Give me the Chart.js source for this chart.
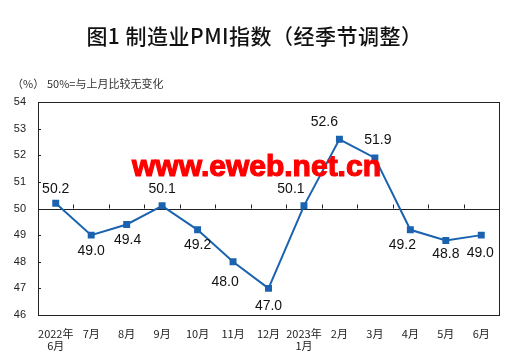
<!DOCTYPE html>
<html>
<head>
<meta charset="utf-8">
<script src="https://cdn.jsdelivr.net/npm/chart.js@4.4.0/dist/chart.umd.min.js"></script>
<style>
    html, body { margin: 0; padding: 0; background: #fff; }
    #wrap { position: relative; width: 509px; height: 361px; }
    #pmiChart { position: absolute; left: 0; top: 0; }
    .txt { position: absolute; white-space: nowrap; color: #111; }
    #title { left: 0; width: 509px; top: 20px; text-align: center; font: 500 21px "Noto Sans CJK SC", sans-serif; letter-spacing: 0.5px; }
    #unit { left: 12px; top: 75px; font: 11px "Noto Sans CJK SC", sans-serif; color: #333; }
    #note { left: 47px; top: 75px; font: 11px "Noto Sans CJK SC", sans-serif; color: #333; }
    #mark { left: 2px; width: 509px; top: 149px; text-align: center; font: bold 30px "Liberation Sans", Arial, sans-serif; color: #ff0000; -webkit-text-stroke: 1.2px #ff0000; }
</style>
</head>
<body>
<div id="wrap">
    <canvas id="pmiChart" width="509" height="361"></canvas>
    <div class="txt" id="title">图1 制造业PMI指数（经季节调整）</div>
    <div class="txt" id="unit">（%）</div>
    <div class="txt" id="note">50%=与上月比较无变化</div>
    <div class="txt" id="mark">www.eweb.net.cn</div>
</div>
<script>
    "use strict";

    // Months on the x axis
    const months = [
        ['2022年', '6月'], '7月', '8月', '9月', '10月', '11月', '12月',
        ['2023年', '1月'], '2月', '3月', '4月', '5月', '6月'
    ];
    // Manufacturing PMI, seasonally adjusted
    const pmiValues = [50.2, 49.0, 49.4, 50.1, 49.2, 48.0, 47.0, 50.1, 52.6, 51.9, 49.2, 48.8, 49.0];
    // Y axis range
    const yTicks = [46, 47, 48, 49, 50, 51, 52, 53, 54];

    const lineBlue = '#1b63b0';

    // frame, 50% line ticks and the inner y ticks
    const framePlugin = {
        id: 'frame',
        beforeDatasetsDraw(chart) {
            const { ctx, chartArea: a, scales } = chart;
            const y50 = scales.y.getPixelForValue(50);
            ctx.save();
            ctx.strokeStyle = '#222';
            ctx.lineWidth = 1;
            ctx.strokeRect(Math.round(a.left) + 0.5, Math.round(a.top) + 0.5,
                Math.round(a.right - a.left), Math.round(a.bottom - a.top));
            ctx.beginPath();
            ctx.moveTo(a.left, Math.round(y50) + 0.5);
            ctx.lineTo(a.right, Math.round(y50) + 0.5);
            for (let i = 1; i < months.length; i++) {
                const x = Math.round((scales.x.getPixelForValue(i - 1) + scales.x.getPixelForValue(i)) / 2) + 0.5;
                ctx.moveTo(x, y50);
                ctx.lineTo(x, y50 - 4);
            }
            yTicks.forEach(v => {
                if (v === yTicks[0] || v === yTicks[yTicks.length - 1]) return;
                const y = Math.round(scales.y.getPixelForValue(v)) + 0.5;
                ctx.moveTo(a.left, y);
                ctx.lineTo(a.left + 3, y);
            });
            ctx.stroke();
            ctx.restore();
        }
    };

    // value labels next to the points
    const valueLabels = {
        id: 'valueLabels',
        afterDatasetsDraw(chart, args, opts) {
            const { ctx } = chart;
            const meta = chart.getDatasetMeta(0);
            ctx.save();
            ctx.font = '14px "Liberation Sans", Arial, sans-serif';
            ctx.fillStyle = '#111';
            ctx.textAlign = 'center';
            ctx.textBaseline = 'middle';
            meta.data.forEach((pt, i) => {
                const off = opts.offsets[i];
                ctx.fillText(pmiValues[i].toFixed(1), pt.x + off[0], pt.y + off[1]);
            });
            ctx.restore();
        }
    };

    const ctx = document.getElementById('pmiChart').getContext('2d');
    const pmiChart = new Chart(ctx, {
        type: 'line',
        data: {
            labels: months,
            datasets: [{
                data: pmiValues,
                borderColor: lineBlue,
                backgroundColor: lineBlue,
                borderWidth: 2,
                pointStyle: 'rect',
                pointRadius: 3.5,
                pointHoverRadius: 3.5,
                tension: 0
            }]
        },
        options: {
            responsive: false,
            animation: false,
            layout: { padding: { top: 102, right: 10, left: 0, bottom: 0 } },
            plugins: {
                legend: { display: false },
                tooltip: { enabled: false },
                valueLabels: {
                    offsets: [
                        [0, -14], [0, 16], [1, 16], [0, -17], [0, 15], [-8, 20], [0, 18],
                        [-13, -17], [-15, -17], [3, -18], [-8, 15], [0, 14], [-1, 18]
                    ]
                }
            },
            scales: {
                x: {
                    offset: true,
                    grid: { display: false },
                    border: { display: false },
                    afterFit(scale) { scale.height = 46; },
                    ticks: {
                        padding: 4,
                        maxRotation: 0,
                        autoSkip: false,
                        color: '#222',
                        font: { family: '"Noto Sans CJK SC", sans-serif', size: 11, lineHeight: 1.15 }
                    }
                },
                y: {
                    min: 46,
                    max: 54,
                    afterFit(scale) { scale.width = 38; },
                    afterBuildTicks(scale) { scale.ticks = yTicks.map(v => ({ value: v })); },
                    grid: { display: false, drawTicks: false },
                    border: { display: false },
                    ticks: {
                        padding: 12,
                        color: '#222',
                        font: { family: '"Liberation Sans", Arial, sans-serif', size: 11 }
                    }
                }
            }
        },
        plugins: [framePlugin, valueLabels]
    });
</script>
</body>
</html>
